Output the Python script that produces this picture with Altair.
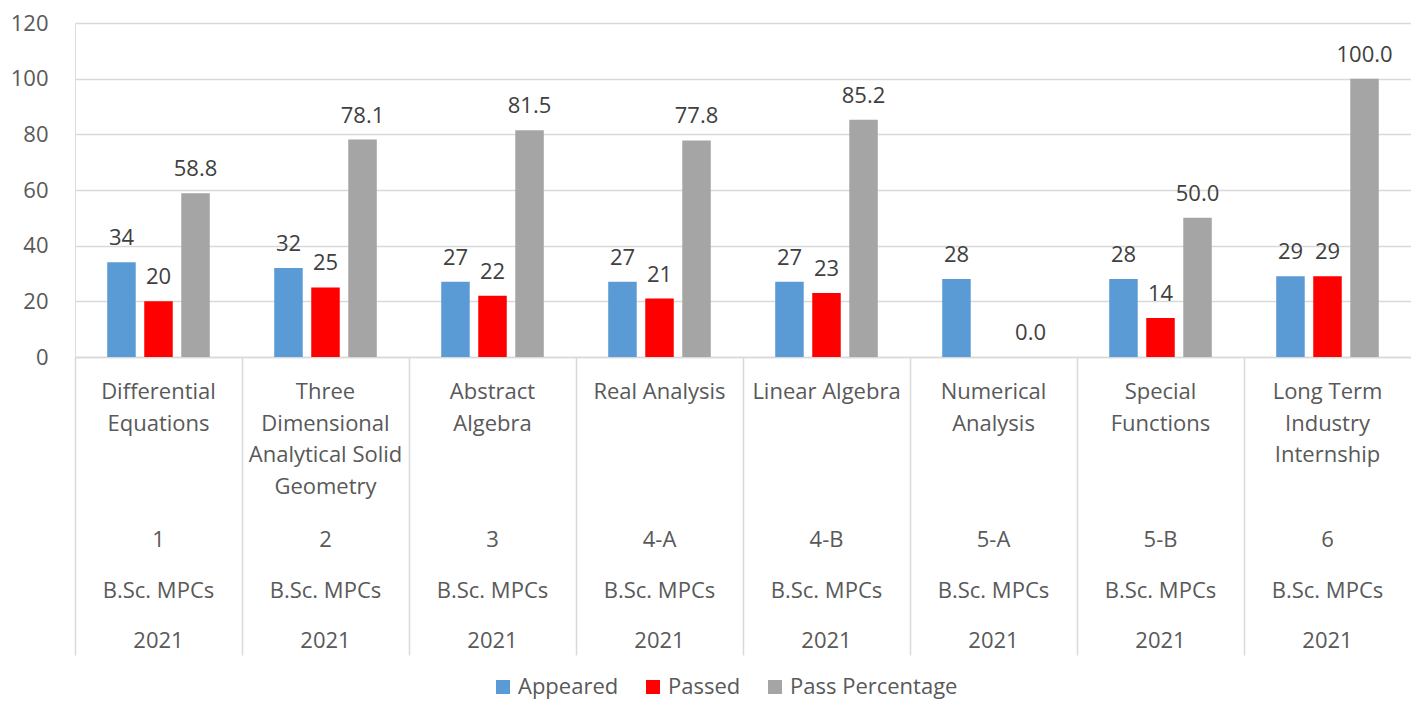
import altair as alt
import pandas as pd

codes = ["1", "2", "3", "4-A", "4-B", "5-A", "5-B", "6"]
subjects = [
    "Differential|Equations",
    "Three|Dimensional|Analytical Solid|Geometry",
    "Abstract|Algebra",
    "Real Analysis",
    "Linear Algebra",
    "Numerical|Analysis",
    "Special|Functions",
    "Long Term|Industry|Internship",
]
programme = ["B.Sc. MPCs"] * 8
years = ["2021"] * 8

appeared = [34, 32, 27, 27, 27, 28, 28, 29]
passed = [20, 25, 22, 21, 23, None, 14, 29]
pass_pct = [58.8, 78.1, 81.5, 77.8, 85.2, 0.0, 50.0, 100.0]

series = ["Appeared", "Passed", "Pass Percentage"]
colors = ["#5B9BD5", "#FF0000", "#A5A5A5"]

rows = []
for i, c in enumerate(codes):
    for s, vals, fmt in [
        ("Appeared", appeared, "{:.0f}"),
        ("Passed", passed, "{:.0f}"),
        ("Pass Percentage", pass_pct, "{:.1f}"),
    ]:
        v = vals[i]
        if v is None:
            continue
        rows.append({"code": c, "series": s, "value": v, "label": fmt.format(v)})
df = pd.DataFrame(rows)

cat = pd.DataFrame({"code": codes, "subject": subjects, "prog": programme, "year": years})

FONT = "Open Sans"
FS = 22
GRID = "#D9D9D9"
TXT = "#595959"

x_enc = alt.X(
    "code:N",
    sort=codes,
    scale=alt.Scale(paddingInner=0, paddingOuter=0),
    axis=alt.Axis(
        title=None,
        labels=False,
        bandPosition=0,
        ticks=True,
        tickSize=298,
        tickColor=GRID,
        tickWidth=1.5,
        domainColor=GRID,
        domainWidth=1.5,
        grid=False,
    ),
)
xoff = alt.XOffset(
    "series:N",
    sort=series,
    scale=alt.Scale(paddingInner=0.23, paddingOuter=0.87),
)
y_enc = alt.Y(
    "value:Q",
    scale=alt.Scale(domain=[0, 120]),
    axis=alt.Axis(
        title=None,
        values=[0, 20, 40, 60, 80, 100, 120],
        domain=False,
        ticks=False,
        gridColor=GRID,
        gridWidth=1.5,
        labelFont=FONT,
        labelFontSize=FS,
        labelColor=TXT,
        labelPadding=27,
    ),
)

bars = alt.Chart(df).mark_bar().encode(
    x=x_enc,
    xOffset=xoff,
    y=y_enc,
    color=alt.Color(
        "series:N",
        sort=series,
        scale=alt.Scale(domain=series, range=colors),
        legend=alt.Legend(
            title=None,
            orient="none",
            direction="horizontal",
            legendX=417,
            legendY=653,
            symbolType="square",
            symbolSize=196,
            symbolStrokeWidth=0,
            labelFont=FONT,
            labelFontSize=FS,
            labelColor=TXT,
            labelOffset=4,
            labelLimit=400,
            columnPadding=23,
        ),
    ),
)

labels = alt.Chart(df).mark_text(
    font=FONT, fontSize=FS, color="#404040", baseline="alphabetic", dy=-17
).encode(
    x=alt.X("code:N", sort=codes),
    xOffset=alt.XOffset("series:N", sort=series),
    y="value:Q",
    text="label:N",
)

subj = alt.Chart(cat).mark_text(
    font=FONT, fontSize=FS, color=TXT, baseline="top", lineBreak="|", lineHeight=31.7,
).encode(
    x=alt.X("code:N", sort=codes),
    y=alt.value(359),
    text="subject:N",
)
code_row = alt.Chart(cat).mark_text(font=FONT, fontSize=FS, color=TXT, baseline="middle").encode(
    x=alt.X("code:N", sort=codes), y=alt.value(517), text="code:N"
)
prog_row = alt.Chart(cat).mark_text(font=FONT, fontSize=FS, color=TXT, baseline="middle").encode(
    x=alt.X("code:N", sort=codes), y=alt.value(568), text="prog:N"
)
year_row = alt.Chart(cat).mark_text(font=FONT, fontSize=FS, color=TXT, baseline="middle").encode(
    x=alt.X("code:N", sort=codes), y=alt.value(618), text="year:N"
)

chart = (
    alt.layer(bars, labels, subj, code_row, prog_row, year_row)
    .properties(
        width=1336,
        height=334,
        autosize=alt.AutoSizeParams(type="none"),
        padding={"left": 67, "top": 15, "right": 0, "bottom": 342},
    )
    .configure_view(stroke=None)
    .configure(font=FONT, background="white")
)

chart.save("out.html", embed_options={"renderer": "svg", "actions": False})
